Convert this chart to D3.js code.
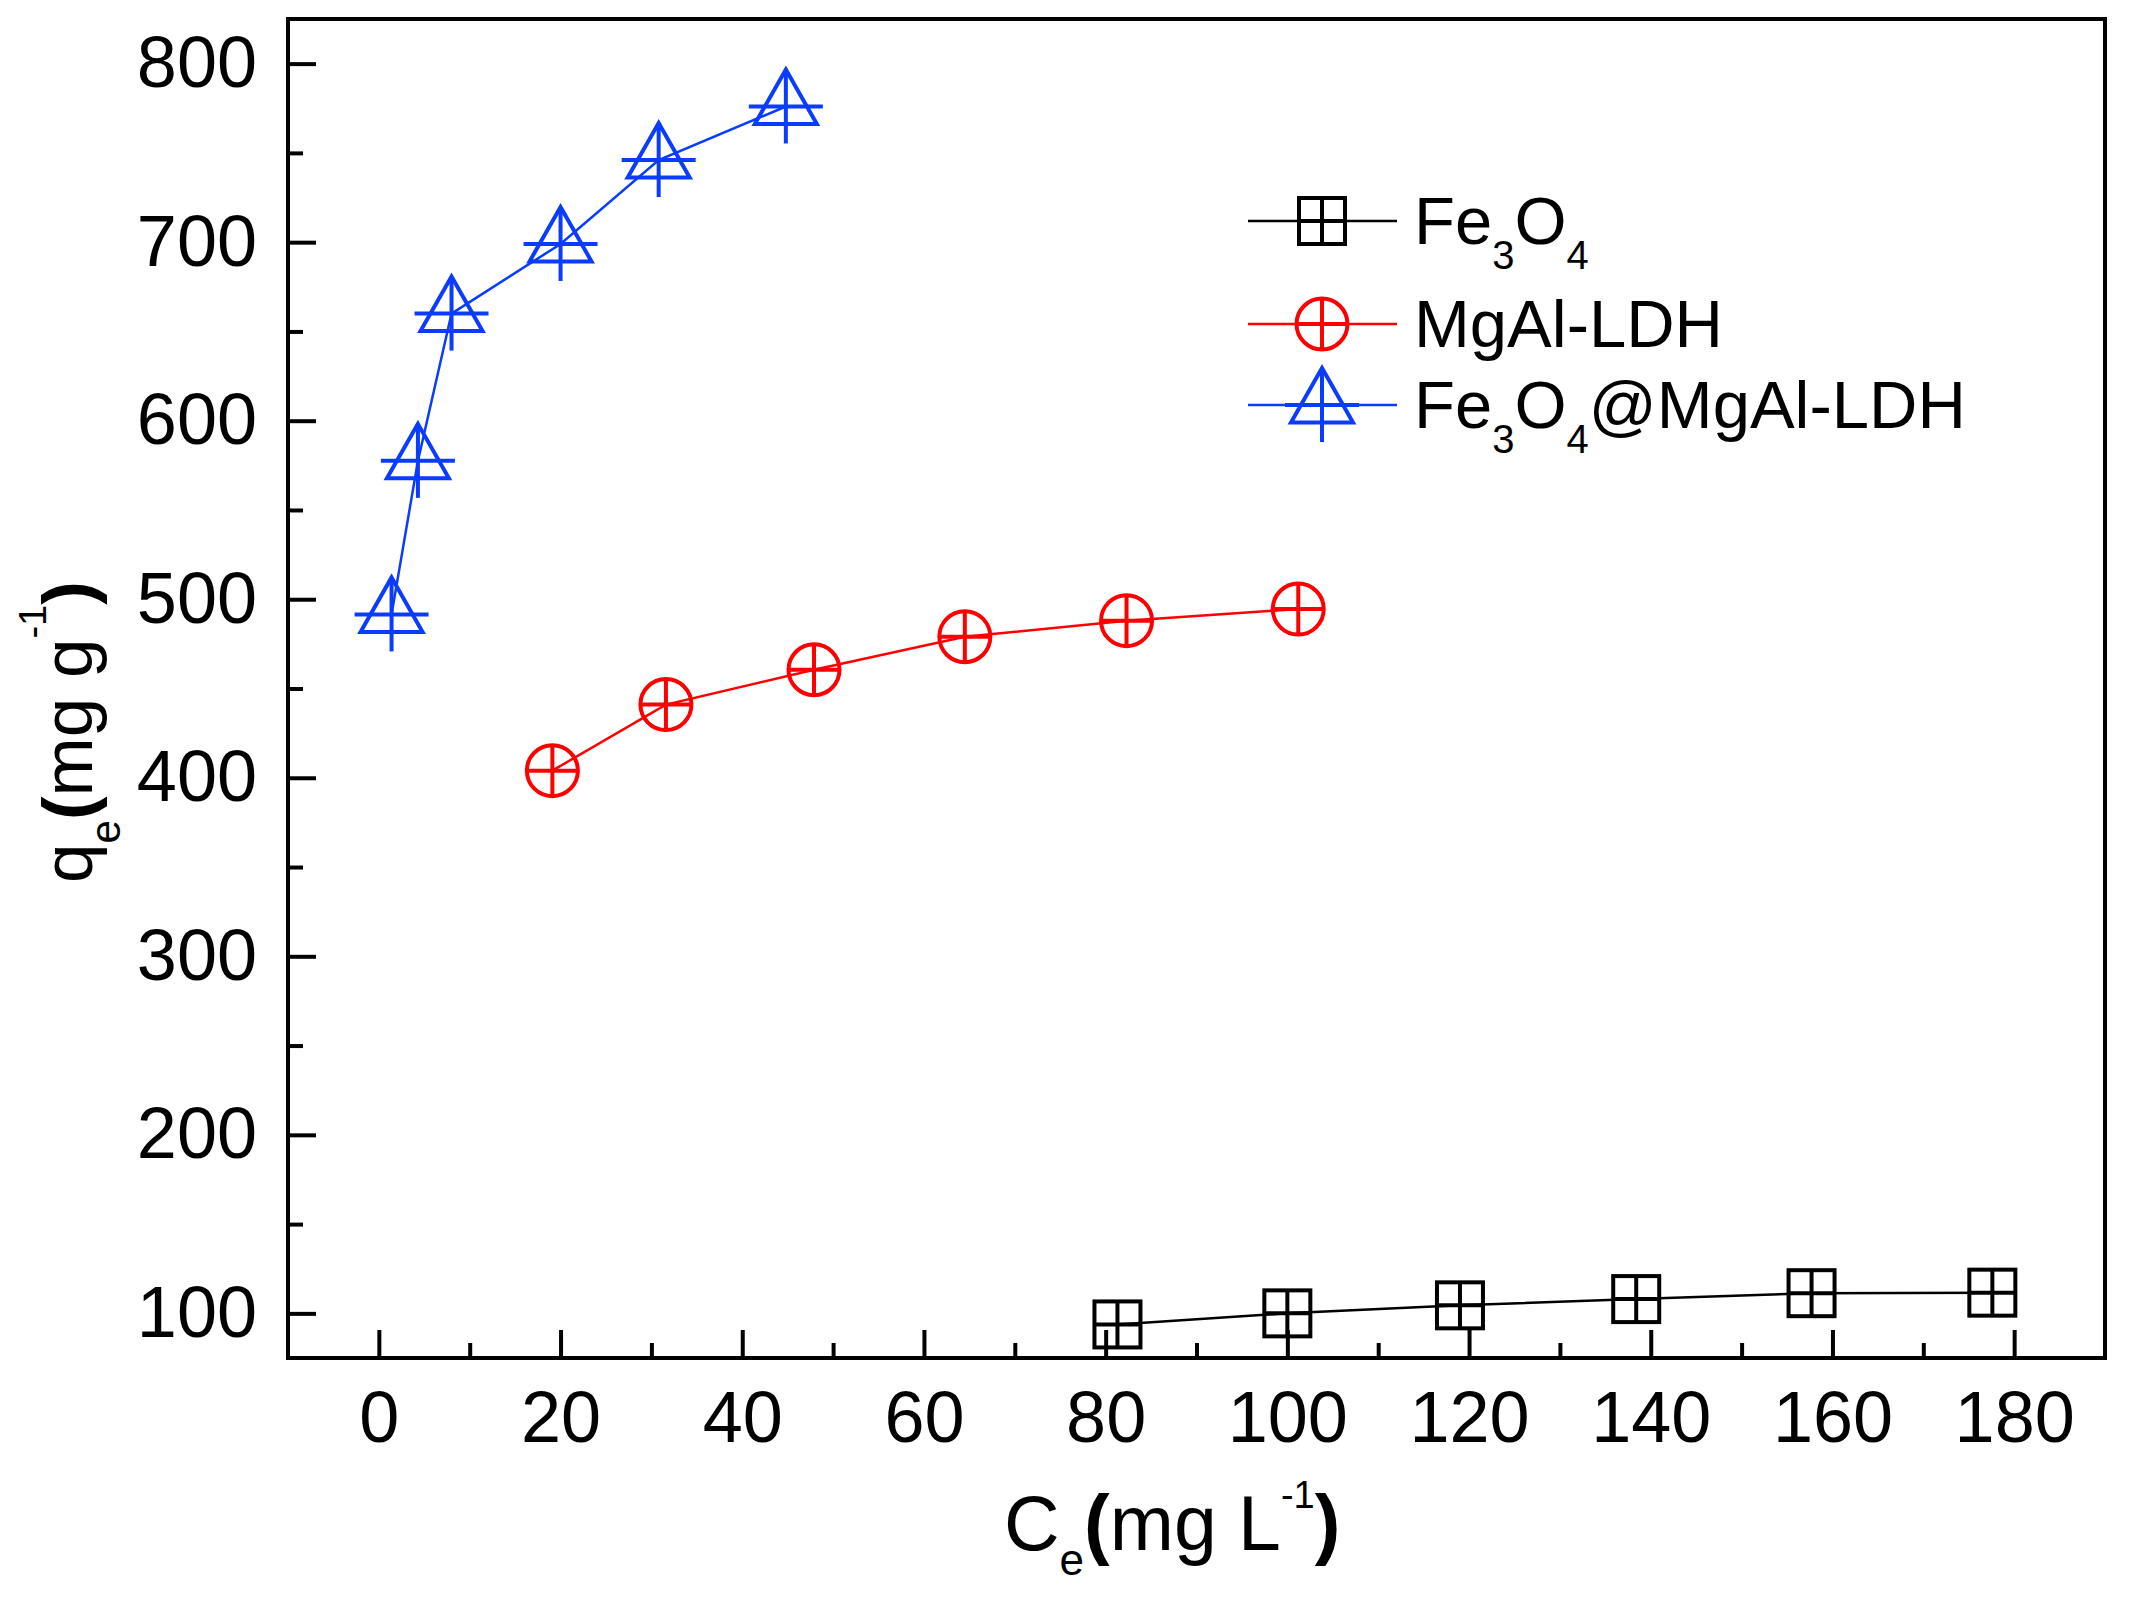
<!DOCTYPE html>
<html>
<head>
<meta charset="utf-8">
<script src="https://cdn.jsdelivr.net/npm/d3@7"></script>
<style>
  body { margin: 0; background: #fff; }
  text { font-family: "Liberation Sans", Arial, sans-serif; fill: #000; }
</style>
</head>
<body>
<div id="chart"></div>
<script>
// Values (Ce in mg/L, qe in mg/g)
const seriesNames = ["Fe3O4", "MgAl-LDH", "Fe3O4@MgAl-LDH"];
const fe3o4Ce = [81.3, 100.0, 119.0, 138.4, 157.7, 177.6];
const fe3o4Qe = [93.8, 100.0, 104.5, 108.0, 111.3, 111.6];
const ldhCe = [19.1, 31.6, 47.9, 64.5, 82.3, 101.2];
const ldhQe = [404, 441, 460.5, 479, 488, 494.5];
const compCe = [1.4, 4.3, 8.0, 20.0, 30.8, 44.8];
const compQe = [491.5, 577.5, 660, 699, 746, 776];

// Tick values
const xTicks = [0, 20, 40, 60, 80, 100, 120, 140, 160, 180];
const xMinorTicks = [10, 30, 50, 70, 90, 110, 130, 150, 170];
const yTicks = [100, 200, 300, 400, 500, 600, 700, 800];
const yMinorTicks = [150, 250, 350, 450, 550, 650, 750];

// Set the dimensions and margins of the graph
const W = 2129, H = 1600;
const margin = { top: 19, right: 24, bottom: 242, left: 288 },
      width = W - margin.left - margin.right,
      height = H - margin.top - margin.bottom;

const svg = d3.select("#chart")
  .append("svg")
    .attr("width", W)
    .attr("height", H);

const g = svg.append("g")
    .attr("transform", "translate(" + margin.left + "," + margin.top + ")");

const x = d3.scaleLinear().domain([-10, 190]).range([0, width]);
const y = d3.scaleLinear().domain([75, 825]).range([height, 0]);

function styleAxis(a) {
  a.select(".domain").remove();
  a.selectAll("line").attr("stroke", "#000").attr("stroke-width", 4);
  a.attr("font-size", 72).attr("font-family", '"Liberation Sans", Arial, sans-serif');
}

// X axis, major and minor ticks pointing inward
g.append("g")
  .attr("transform", "translate(0," + height + ")")
  .call(d3.axisBottom(x).tickValues(xTicks).tickSize(-28).tickPadding(33))
  .call(styleAxis);
g.append("g")
  .attr("transform", "translate(0," + height + ")")
  .call(d3.axisBottom(x).tickValues(xMinorTicks).tickSize(-15).tickFormat(() => ""))
  .call(styleAxis);

// Y axis
g.append("g")
  .call(d3.axisLeft(y).tickValues(yTicks).tickSize(-28).tickPadding(31))
  .call(styleAxis);
g.append("g")
  .call(d3.axisLeft(y).tickValues(yMinorTicks).tickSize(-15).tickFormat(() => ""))
  .call(styleAxis);

// Frame
g.append("rect")
  .attr("width", width)
  .attr("height", height)
  .attr("fill", "none")
  .attr("stroke", "#000")
  .attr("stroke-width", 4);

// Marker shapes (centred on the data point)
function drawMarker(sel, type, color) {
  sel.attr("fill", "none").attr("stroke", color).attr("stroke-width", 4);
  let r;
  if (type === "square") {
    r = 23;
    sel.append("rect").attr("x", -r).attr("y", -r).attr("width", 2 * r).attr("height", 2 * r);
  } else if (type === "circle") {
    r = 25.5;
    sel.append("circle").attr("r", r);
  } else {
    r = 37;
    sel.append("path").attr("d", "M0,-37L31,17.5L-31,17.5Z").attr("stroke-linejoin", "miter");
  }
  sel.append("line").attr("x1", -r).attr("x2", r);
  sel.append("line").attr("y1", -r).attr("y2", r);
}

const series = [
  { name: seriesNames[0], ce: fe3o4Ce, qe: fe3o4Qe, color: "#000000", marker: "square",
    label: [["Fe", 0], ["3", 1], ["O", 0], ["4", 1]] },
  { name: seriesNames[1], ce: ldhCe, qe: ldhQe, color: "#ff0000", marker: "circle",
    label: [["MgAl-LDH", 0]] },
  { name: seriesNames[2], ce: compCe, qe: compQe, color: "#0a3cff", marker: "triangle",
    label: [["Fe", 0], ["3", 1], ["O", 0], ["4", 1], ["@MgAl-LDH", 0]] }
];

const line = d3.line()
  .x(d => x(d[0]))
  .y(d => y(d[1]));

// Draw the lines and markers
series.forEach(s => {
  const pts = d3.zip(s.ce, s.qe);
  g.append("path")
    .datum(pts)
    .attr("d", line)
    .attr("fill", "none")
    .attr("stroke", s.color)
    .attr("stroke-width", 2.5);
  g.selectAll(".pt-" + s.marker)
    .data(pts)
    .enter()
    .append("g")
      .attr("class", "pt-" + s.marker)
      .attr("transform", d => "translate(" + x(d[0]) + "," + y(d[1]) + ")")
      .each(function() { drawMarker(d3.select(this), s.marker, s.color); });
});

// Legend
const legendRows = [221, 324, 405];
series.forEach((s, i) => {
  const ly = legendRows[i];
  svg.append("line")
    .attr("x1", 1248).attr("x2", 1397)
    .attr("y1", ly).attr("y2", ly)
    .attr("stroke", s.color)
    .attr("stroke-width", 2.5);
  const m = svg.append("g").attr("transform", "translate(1322," + ly + ")");
  drawMarker(m, s.marker, s.color);
  const t = svg.append("text")
    .attr("x", 1414)
    .attr("y", ly + 23)
    .attr("font-size", 67);
  let shift = 0;
  s.label.forEach(([txt, sub]) => {
    const target = sub ? 25 : 0;
    t.append("tspan")
      .attr("dy", target - shift)
      .attr("font-size", sub ? 40 : 67)
      .text(txt);
    shift = target;
  });
});

// Axis titles
function richText(t, parts) {
  let shift = 0;
  parts.forEach(p => {
    const sp = t.append("tspan")
      .attr("dy", p.dy - shift)
      .text(p.text);
    if (p.size) sp.attr("font-size", p.size);
    if (p.bold) sp.attr("font-weight", "bold");
    shift = p.dy;
  });
}

const xTitle = svg.append("text")
  .attr("x", 1004)
  .attr("y", 1550)
  .attr("font-size", 77);
richText(xTitle, [
  { text: "C", dy: 0 },
  { text: "e", dy: 25, size: 44 },
  { text: "(", dy: 0, bold: true },
  { text: "mg L", dy: 0 },
  { text: "-1", dy: -42, size: 38 },
  { text: ")", dy: 0, bold: true }
]);

const yTitle = svg.append("text")
  .attr("transform", "translate(92,732) rotate(-90)")
  .attr("text-anchor", "middle")
  .attr("font-size", 71);
richText(yTitle, [
  { text: "q", dy: 0 },
  { text: "e", dy: 28, size: 42 },
  { text: "(", dy: 0, bold: true },
  { text: "mg g", dy: 0 },
  { text: "-1", dy: -46, size: 38 },
  { text: ")", dy: 0, bold: true }
]);
</script>
</body>
</html>
